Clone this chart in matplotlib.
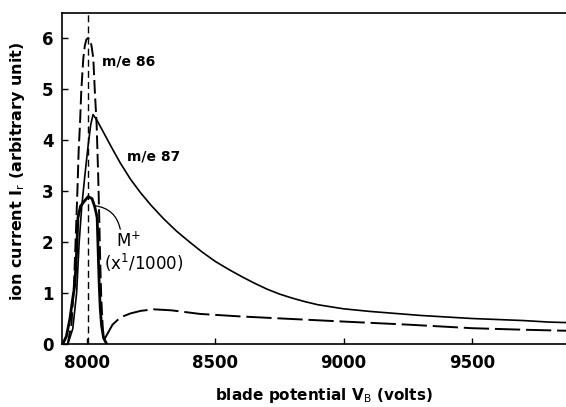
import matplotlib
matplotlib.use("Agg")
import matplotlib.pyplot as plt
import numpy as np

plt.rcParams['font.family'] = ['DejaVu Sans']

# m/e 86 (dashed)
x86 = [7925, 7940, 7950, 7958, 7963, 7968, 7973, 7978, 7986, 7992, 7998, 8005, 8012, 8018, 8025,
       8031, 8038, 8044, 8048, 8052, 8056, 8062, 8067, 8080, 8100, 8130, 8170, 8210,
       8260, 8330, 8440, 8600, 8800, 9000, 9250, 9500, 9700, 9867]
y86 = [0.0, 0.4, 1.2, 2.3, 3.0, 3.8, 4.3, 4.95, 5.6, 5.85, 5.97, 6.0, 5.97, 5.85, 5.6,
       4.95, 4.3, 3.3, 2.5, 1.6, 0.9, 0.3, 0.08, 0.2, 0.38, 0.52, 0.6, 0.65,
       0.68, 0.66, 0.59, 0.54, 0.49, 0.44, 0.38, 0.31, 0.28, 0.26]

# m/e 87 (solid)
x87 = [7926, 7945, 7960, 7970, 7980, 7992, 8005, 8015, 8024, 8040, 8070, 8100, 8130,
       8170, 8210, 8250, 8300, 8350, 8400, 8450, 8500, 8550, 8600, 8650, 8700, 8750,
       8800, 8850, 8900, 8950, 9000, 9100, 9200, 9300, 9400, 9500, 9600, 9700, 9800, 9867]
y87 = [0.0, 0.3, 1.0, 2.0, 2.7, 3.3, 3.9, 4.3, 4.5, 4.38, 4.1, 3.82, 3.55,
       3.23, 2.96, 2.72, 2.45, 2.21, 2.0, 1.8, 1.62, 1.47, 1.33, 1.2, 1.08, 0.98,
       0.90, 0.83, 0.77, 0.73, 0.69, 0.64, 0.6, 0.56, 0.53, 0.5, 0.48, 0.46, 0.43, 0.42]

# M+ (x 1/1000, thick solid)
xM = [7906, 7920, 7934, 7945, 7953, 7960, 7965, 7975, 7990, 8005, 8020, 8030,
      8037, 8040, 8044, 8048, 8052, 8057, 8065, 8077]
yM = [0.0, 0.15, 0.5, 0.9, 1.16, 1.8, 2.47, 2.7, 2.8, 2.89, 2.85, 2.7,
      2.55, 2.47, 1.8, 1.16, 0.7, 0.37, 0.12, 0.0]

v_ref = 8005
xticks = [8000, 8500, 9000, 9500]
yticks = [0, 1, 2, 3, 4, 5, 6]

fig = plt.figure(figsize=(5.66, 4.07), dpi=100)
ax = fig.add_axes([62/566, 63/407, 504/566, 331.5/407])

x86a = np.array(x86); y86a = np.array(y86)
m1 = x86a <= 8067
m2 = x86a >= 8067
ax.plot(x86a[m1], y86a[m1], color='black', lw=1.4, dashes=(7, 2.5))
ax.plot(x86a[m2], y86a[m2], color='black', lw=1.4, dashes=(13, 3))
ax.plot(x87, y87, color='black', lw=1.2, solid_capstyle='round')
ax.plot(xM, yM, color='black', lw=2.0)
ax.plot([v_ref, v_ref], [0, 6.5], color='black', lw=1.0, dashes=(5, 3))

ax.text(8058, 5.53, "m/e 86", fontsize=10, fontweight='bold', ha='left', va='center')
ax.text(8156, 3.67, "m/e 87", fontsize=10, fontweight='bold', ha='left', va='center')
ax.text(8112, 2.02, r"M$^{+}$", fontsize=12, ha='left', va='center')
ax.text(8068, 1.59, r"(x$^{1}$/1000)", fontsize=12, ha='left', va='center')
ax.annotate('', xy=(8130, 2.25), xytext=(8033, 2.71),
            arrowprops=dict(arrowstyle='-', connectionstyle='arc3,rad=-0.35',
                            lw=0.9, color='black', shrinkA=0, shrinkB=0))

ax.set_xlim(7903, 9867)
ax.set_ylim(0, 6.5)
ax.set_xticks(xticks)
ax.set_xticklabels([str(t) for t in xticks], fontsize=12, fontweight='bold')
ax.set_yticks(yticks)
ax.set_yticklabels([str(t) for t in yticks], fontsize=12, fontweight='bold')
ax.tick_params(direction='in', length=4, width=1.0, pad=7)
ax.tick_params(axis='y', pad=6)
for s in ['left', 'bottom', 'top']:
    ax.spines[s].set_linewidth(1.2)
ax.spines['right'].set_visible(False)

ax.set_xlabel(r"blade potential V$_{\mathrm{B}}$ (volts)", fontsize=11, fontweight='bold')
ax.set_ylabel(r"ion current I$_{\mathrm{r}}$ (arbitrary unit)", fontsize=11.5, fontweight='bold')
ax.xaxis.set_label_coords(0.52, -0.128)
ax.yaxis.set_label_coords(-0.07, 0.52)

fig.savefig("out.png", dpi=100)
